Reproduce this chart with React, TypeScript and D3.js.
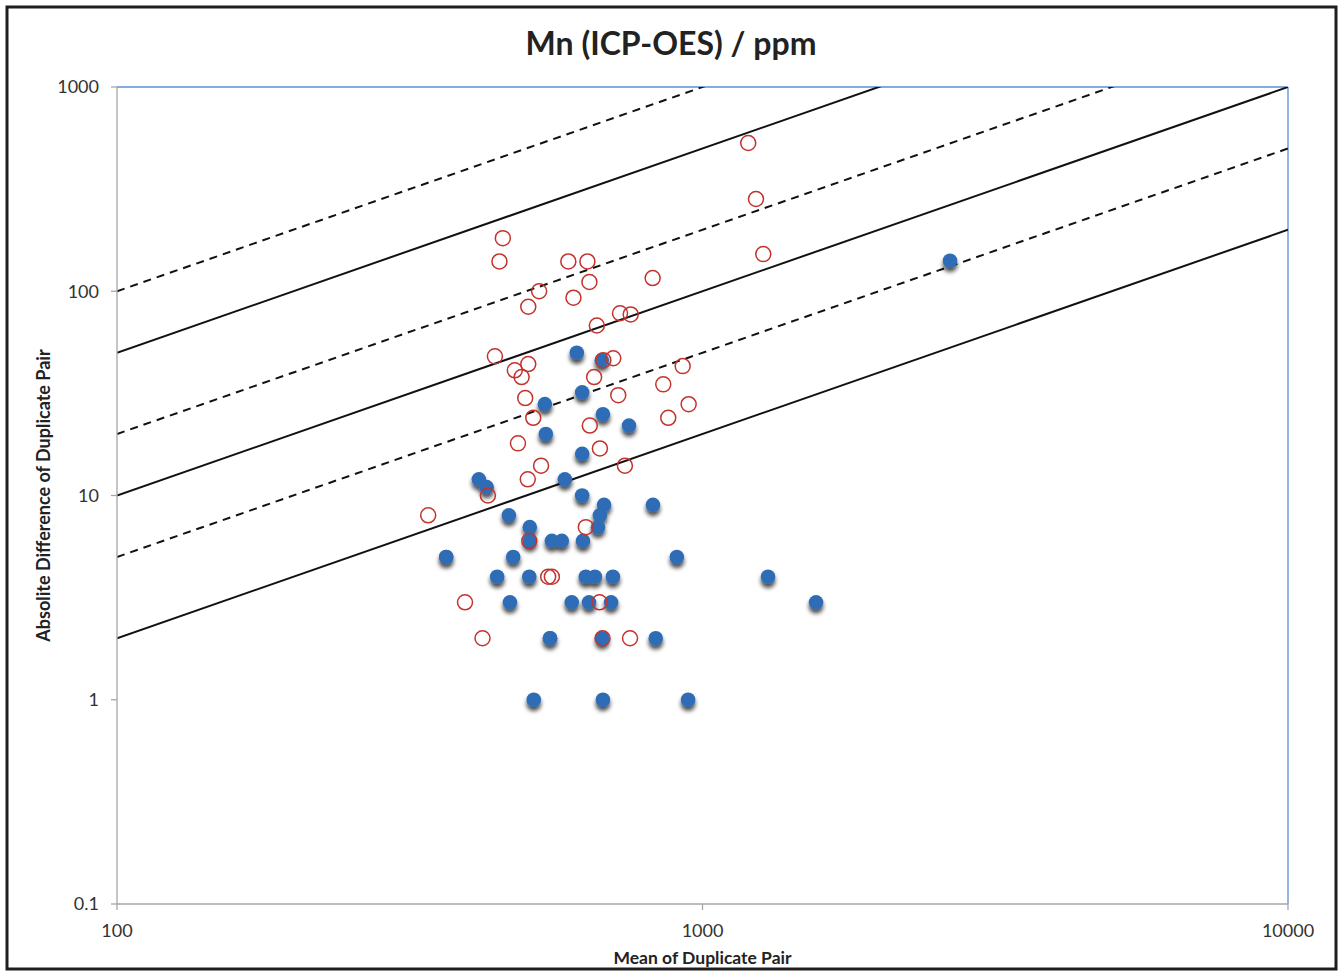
import React from "react"
import * as d3 from "d3"

// ---------- Data ----------
const blueX = [365, 365, 415, 428, 467, 446, 469, 475, 507, 507, 506, 553, 575, 625, 623, 582, 515, 549, 549, 598, 640, 698, 632, 655, 703, 674, 832, 676, 945, 904, 823, 679, 668, 663, 610, 673, 623, 538, 540, 623, 676, 749, 2647, 1294, 1563]
const blueY = [5, 5, 12, 11, 8, 4, 3, 5, 7, 6, 4, 6, 6, 6, 10, 12, 1, 2, 2, 3, 3, 3, 4, 4, 4, 2, 2, 1, 1, 5, 9, 9, 8, 7, 50, 46, 32, 28, 20, 16, 25, 22, 141, 4, 3]

const redX = [456, 450, 590, 636, 641, 526, 602, 504, 822, 723, 754, 660, 442, 478, 504, 491, 677, 704, 653, 925, 857, 498, 718, 947, 514, 642, 874, 484, 668, 530, 737, 503, 430, 340, 632, 506, 545, 553, 393, 667, 421, 675, 752, 1270, 1197, 1234]
const redY = [182, 140, 140, 140, 111, 100, 93, 84, 116, 78, 77, 68, 48, 41, 44, 38, 46, 47, 38, 43, 35, 30, 31, 28, 24, 22, 24, 18, 17, 14, 14, 12, 10, 8, 7, 6, 4, 4, 3, 3, 2, 2, 2, 152, 532, 283]

// reference lines: |diff| = ratio * mean
const lineRatios = [1, 0.5, 0.2, 0.1, 0.05, 0.02]
const lineDashed = [true, false, true, false, true, false]

const xTicks = [100, 1000, 10000]
const yTicks = [0.1, 1, 10, 100, 1000]

const title = "Mn (ICP-OES) / ppm"
const xLabel = "Mean of Duplicate Pair"
const yLabel = "Absolite Difference of Duplicate Pair"

// ---------- Layout ----------
const W = 1341
const H = 972
const margin = { top: 87, right: 53, bottom: 68, left: 117 }
const innerW = W - margin.left - margin.right
const innerH = H - margin.top - margin.bottom
const FONT = "Lato, 'Open Sans', sans-serif"

export default function App() {
    const x = d3.scaleLog().domain([100, 10000]).range([0, innerW])
    const y = d3.scaleLog().domain([0.1, 1000]).range([innerH, 0])

    const lineXs = [100, 10000]

    return (
        <div style={{ position: "absolute", left: 0, top: 0 }}>
            <svg width={W} height={H} style={{ display: "block", background: "#fff" }}>
                <defs>
                    <clipPath id="plot-clip">
                        <rect x={0} y={0} width={innerW} height={innerH} />
                    </clipPath>
                    <filter id="shadow" x="-100%" y="-100%" width="300%" height="300%">
                        <feDropShadow dx={0} dy={4} stdDeviation={2.2} floodColor="#000" floodOpacity={0.7} />
                    </filter>
                </defs>

                {/* outer frame */}
                <rect x={7} y={7} width={1329} height={962} fill="none" stroke="#1e1e1e" strokeWidth={3} />

                <text x={671} y={55} textAnchor="middle" fontFamily={FONT} fontWeight={700} fontSize={32} fill="#222">
                    {title}
                </text>

                <g transform={`translate(${margin.left},${margin.top})`}>
                    {/* plot border: top/right blue */}
                    <line x1={0} x2={innerW} y1={0} y2={0} stroke="#5b8fd6" strokeWidth={1.3} />
                    <line x1={innerW} x2={innerW} y1={0} y2={innerH} stroke="#5b8fd6" strokeWidth={1.3} />

                    {/* ratio lines */}
                    <g clipPath="url(#plot-clip)">
                        {lineRatios.map((r, i) => {
                            const path = d3.line<number>()
                                .x(d => x(d))
                                .y(d => y(d * r))(lineXs)
                            return (
                                <path key={i} d={path ?? ""} fill="none" stroke="#111" strokeWidth={2}
                                    strokeDasharray={lineDashed[i] ? "8,6" : undefined} />
                            )
                        })}
                    </g>

                    {/* axes */}
                    <line x1={0} x2={0} y1={0} y2={innerH} stroke="#a6a6a6" strokeWidth={1.3} />
                    <line x1={0} x2={innerW} y1={innerH} y2={innerH} stroke="#a6a6a6" strokeWidth={1.3} />
                    {yTicks.map(t => (
                        <g key={t} transform={`translate(0,${y(t)})`}>
                            <line x1={-6} x2={0} stroke="#a6a6a6" strokeWidth={1.3} />
                            <text x={-18} dy="0.35em" textAnchor="end" fontFamily={FONT} fontSize={18} fill="#333">
                                {t}
                            </text>
                        </g>
                    ))}
                    {xTicks.map(t => (
                        <g key={t} transform={`translate(${x(t)},${innerH})`}>
                            <line y1={0} y2={6} stroke="#a6a6a6" strokeWidth={1.3} />
                            <text y={33} textAnchor="middle" fontFamily={FONT} fontSize={18} fill="#333">
                                {t}
                            </text>
                        </g>
                    ))}

                    {/* blue filled points */}
                    <g filter="url(#shadow)">
                        {blueX.map((v, i) => (
                            <circle key={i} cx={x(v)} cy={y(blueY[i])} r={7.3} fill="#2e6db5" />
                        ))}
                    </g>

                    {/* red open circles */}
                    {redX.map((v, i) => (
                        <circle key={i} cx={x(v)} cy={y(redY[i])} r={7.5} fill="none" stroke="#c4322c" strokeWidth={1.5} />
                    ))}

                    <text x={innerW / 2} y={innerH + 60} textAnchor="middle" fontFamily={FONT} fontWeight={700} fontSize={17.5} fill="#222">
                        {xLabel}
                    </text>
                    <text transform={`translate(${-67},${innerH / 2}) rotate(-90)`} textAnchor="middle"
                        fontFamily={FONT} fontWeight={700} fontSize={18} fill="#222">
                        {yLabel}
                    </text>
                </g>
            </svg>
        </div>
    )
}
